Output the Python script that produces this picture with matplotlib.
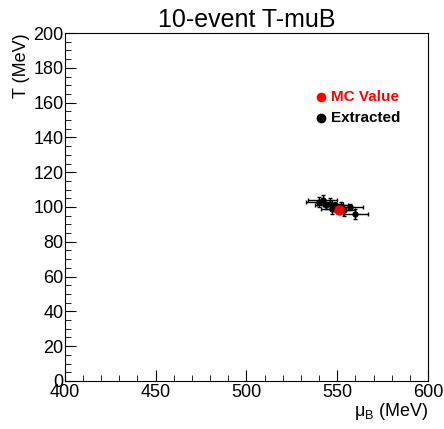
import matplotlib
matplotlib.use('Agg')
import matplotlib.pyplot as plt
from matplotlib.ticker import MultipleLocator

plt.rcParams['font.family'] = ['Liberation Sans', 'DejaVu Sans']
plt.rcParams['mathtext.fontset'] = 'custom'
plt.rcParams['mathtext.rm'] = 'Liberation Sans'

# extracted values (MeV)
mu_b = [540, 542, 544, 546, 547, 549, 552, 554, 557, 560]
temp = [103, 104, 101, 102, 99, 101, 100, 98, 100, 96]
mu_err = [7, 8, 6, 7, 6, 7, 6, 6, 7, 7]
t_err = [3, 3, 2, 3, 3, 2, 3, 3, 2, 3]

mc_mu = 551
mc_t = 98

fig = plt.figure(figsize=(4.44, 4.29), dpi=100)
ax = fig.add_axes([0.146, 0.112, 0.818, 0.811])

ax.errorbar(mu_b, temp, xerr=mu_err, yerr=t_err, fmt='o', color='black',
            ms=3.5, elinewidth=1, capsize=1.2, zorder=3)
ax.plot(mc_mu, mc_t, 'o', color='red', ms=6.5, zorder=4)

ax.set_xlim(400, 600)
ax.set_ylim(0, 200)
ax.xaxis.set_major_locator(MultipleLocator(50))
ax.xaxis.set_minor_locator(MultipleLocator(10))
ax.yaxis.set_major_locator(MultipleLocator(20))
ax.yaxis.set_minor_locator(MultipleLocator(5))
ax.tick_params(which='both', direction='in', top=False, right=False, labelsize=13)
ax.tick_params(axis='x', pad=2.5)
ax.tick_params(axis='y', pad=1)
ax.tick_params(which='major', length=8)
ax.tick_params(which='minor', length=4)

ax.set_title('10-event T-muB', fontsize=18, pad=4)
ax.set_xlabel('μ$_{\\mathregular{B}}$ (MeV)', fontsize=13, loc='right', labelpad=0)
ax.set_ylabel('T (MeV)', fontsize=13, loc='top', labelpad=2)

# legend (ROOT-style, no frame)
ax.plot(541, 163, 'o', color='red', ms=6)
ax.text(546.5, 163, 'MC Value', color='red', fontsize=11, fontweight='bold', va='center')
ax.plot(541, 151, 'o', color='black', ms=6)
ax.text(546.5, 151, 'Extracted', color='black', fontsize=11, fontweight='bold', va='center')

fig.savefig('out.png', dpi=100)
